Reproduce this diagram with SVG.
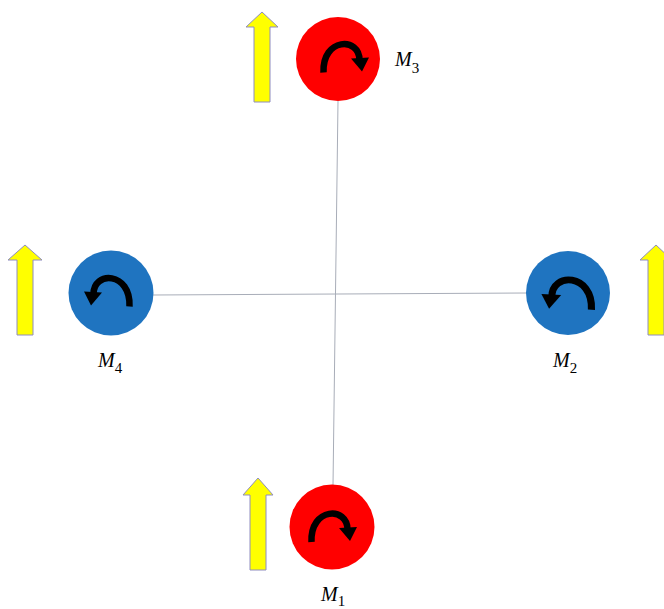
<svg xmlns="http://www.w3.org/2000/svg" width="664" height="609" viewBox="0 0 664 609">
<defs>
<style>
.red{fill:#ff0000}
.blue{fill:#1f74c0}
.arr{fill:#ffff00;stroke:#8e8cc0;stroke-width:1}
.link{stroke:#a8adb8;stroke-width:1;fill:none}
.lbl{font-family:"Liberation Serif",serif;font-style:italic;font-size:20px;fill:#000}
.sub{font-style:normal;font-size:15px}
.curl{fill:none;stroke:#000;stroke-width:6.5}
</style>
<g id="cw">
<path class="curl" d="M -19.5 15 C -21 -20, 17 -21, 16.5 3"/>
<polygon points="8,1 26,0 19,14" fill="#000"/>
</g>
</defs>
<rect width="664" height="609" fill="#fff"/>
<g id="connectors">
<line class="link" x1="338" y1="101" x2="333" y2="485"/>
<line class="link" x1="153" y1="295" x2="527" y2="293"/>
</g>
<g id="M3">
<polygon class="arr" points="254,102 254,27 246,27 262,12 278,27 270,27 270,102"/>
<circle class="red" cx="338" cy="59" r="42"/>
<use href="#cw" transform="translate(343,57.5)"/>
<text class="lbl" x="395" y="66">M<tspan class="sub" dy="7">3</tspan></text>
</g>
<g id="M4">
<polygon class="arr" points="17,335 17,260 8,260 25,245 42,260 33,260 33,335"/>
<circle class="blue" cx="111" cy="293" r="42.5"/>
<use href="#cw" transform="translate(110,291.5) scale(-1,1)"/>
<text class="lbl" x="98" y="367">M<tspan class="sub" dy="6">4</tspan></text>
</g>
<g id="M2">
<polygon class="arr" points="648,335 648,260 640,260 656,245 672,260 664,260 664,335"/>
<circle class="blue" cx="568" cy="293" r="42"/>
<use href="#cw" transform="translate(570,294) scale(-1.1,1.05)"/>
<text class="lbl" x="553" y="367">M<tspan class="sub" dy="6">2</tspan></text>
</g>
<g id="M1">
<polygon class="arr" points="250,570 250,495 243,495 258,478 273,495 266,495 266,570"/>
<circle class="red" cx="332" cy="527" r="42.5"/>
<use href="#cw" transform="translate(331,527)"/>
<text class="lbl" x="321" y="601">M<tspan class="sub" dy="5">1</tspan></text>
</g>
</svg>
